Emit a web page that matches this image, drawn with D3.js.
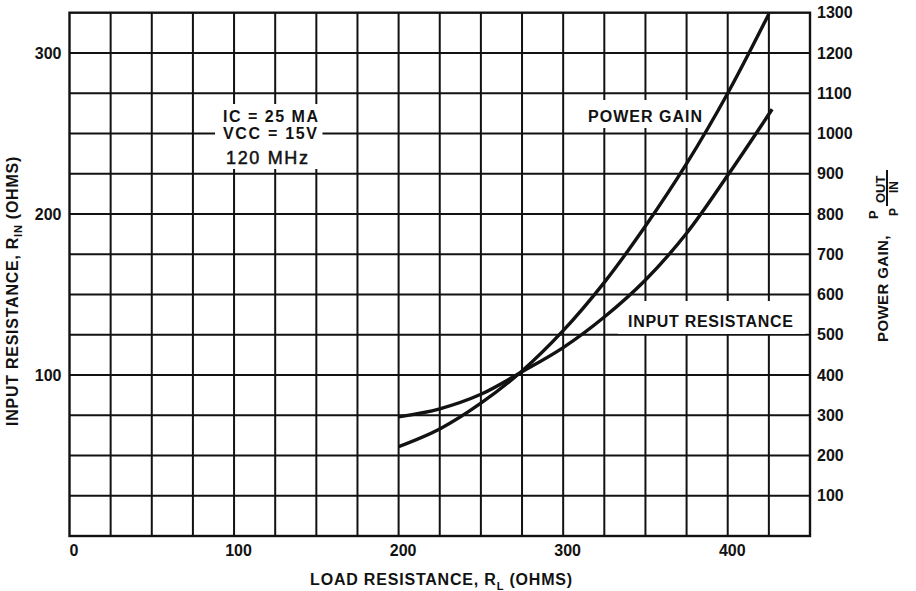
<!DOCTYPE html>
<html>
<head>
<meta charset="utf-8">
<script src="https://cdn.jsdelivr.net/npm/d3@7"></script>
<style>
  html, body { margin: 0; padding: 0; background: #fff; }
  svg { display: block; }
  text { font-family: "Liberation Sans", Arial, Helvetica, sans-serif; fill: #121212; }
</style>
</head>
<body>
<svg id="chart" width="916" height="591"></svg>
<script>
// Tick labels
const loadTicks = [0, 100, 200, 300, 400];
const rinTicks = [100, 200, 300];
const gainTicks = [100, 200, 300, 400, 500, 600, 700, 800, 900, 1000, 1100, 1200, 1300];

// Power gain (Pout/Pin) against load resistance R_L (ohms)
const gainLoad = [200, 225, 250, 275, 300, 325, 350, 375, 400, 425];
const powerGain = [222, 266, 330, 410, 510, 630, 770, 925, 1100, 1297];

// Input resistance R_IN (ohms) against load resistance R_L (ohms)
const rinLoad = [200, 225, 250, 275, 300, 325, 350, 375, 400, 427];
const inputResistance = [74, 79, 88, 102, 117, 136, 159, 188, 224, 265];

// Operating conditions
const conditions = ["IC = 25 MA", "VCC = 15V", "120 MHz"];

const svg = d3.select("#chart");
const plot = { left: 69.5, right: 810, top: 12.7, bottom: 536 };
const ink = "#121212";

const x = d3.scaleLinear().domain([0, 450]).range([plot.left, plot.right]);
const yL = d3.scaleLinear().domain([0, 325]).range([plot.bottom, plot.top]);
const yR = d3.scaleLinear().domain([0, 1300]).range([plot.bottom, plot.top]);

// Grid: 25-ohm columns, 100-unit gain rows
const grid = svg.append("g").attr("stroke", ink).attr("stroke-width", 2);
grid.selectAll("line.v").data(d3.range(25, 450, 25)).join("line")
  .attr("class", "v")
  .attr("x1", d => x(d)).attr("x2", d => x(d))
  .attr("y1", plot.top).attr("y2", plot.bottom);
grid.selectAll("line.h").data(d3.range(100, 1300, 100)).join("line")
  .attr("class", "h")
  .attr("y1", d => yR(d)).attr("y2", d => yR(d))
  .attr("x1", plot.left).attr("x2", plot.right);
svg.append("rect")
  .attr("x", plot.left).attr("y", plot.top)
  .attr("width", plot.right - plot.left).attr("height", plot.bottom - plot.top)
  .attr("fill", "none").attr("stroke", ink).attr("stroke-width", 2.4);

// Axes
function styleAxis(g) {
  g.attr("font-size", null).attr("font-family", null);
  g.select(".domain").remove();
  g.selectAll("text").style("font-size", "16px").style("font-weight", "bold").attr("fill", ink);
}
svg.append("g").attr("transform", `translate(${plot.left},0)`)
  .call(d3.axisLeft(yL).tickValues(rinTicks).tickSize(0).tickPadding(8).tickFormat(d3.format("d")))
  .call(styleAxis);
svg.append("g").attr("transform", `translate(${plot.right},0)`)
  .call(d3.axisRight(yR).tickValues(gainTicks).tickSize(0).tickPadding(7).tickFormat(d3.format("d")))
  .call(styleAxis);
svg.append("g").attr("transform", `translate(0,${plot.bottom})`)
  .call(d3.axisBottom(x).tickValues(loadTicks).tickSize(0).tickPadding(9).tickFormat(d3.format("d")))
  .call(styleAxis)
  .call(g => g.selectAll("text").attr("dx", 4));

// Axis titles
const xTitle = svg.append("text")
  .attr("x", 441.5).attr("y", 585)
  .attr("text-anchor", "middle")
  .style("font-size", "16px").style("font-weight", "bold").style("letter-spacing", "0.8px");
xTitle.append("tspan").text("LOAD RESISTANCE, R");
xTitle.append("tspan").attr("dy", 5).style("font-size", "11px").text("L");
xTitle.append("tspan").attr("dy", -5).text(" (OHMS)");

const yTitle = svg.append("text")
  .attr("transform", "translate(18,291) rotate(-90)")
  .attr("text-anchor", "middle")
  .style("font-size", "16px").style("font-weight", "bold").style("letter-spacing", "0.75px");
yTitle.append("tspan").text("INPUT RESISTANCE, R");
yTitle.append("tspan").attr("dy", 4).style("font-size", "11px").text("IN");
yTitle.append("tspan").attr("dy", -4).text(" (OHMS)");

const rTitle = svg.append("g").attr("transform", "translate(888,342) rotate(-90)");
rTitle.append("text").attr("x", 0).attr("y", 0)
  .style("font-size", "15px").style("font-weight", "bold").style("letter-spacing", "0.4px")
  .text("POWER GAIN,");
rTitle.append("text").attr("x", 123).attr("y", -10.5)
  .style("font-size", "13px").style("font-weight", "bold").text("P");
rTitle.append("text").attr("x", 139).attr("y", -3.5)
  .style("font-size", "13px").style("font-weight", "bold").text("OUT");
rTitle.append("line")
  .attr("x1", 136).attr("x2", 172).attr("y1", -1).attr("y2", -1)
  .attr("stroke", ink).attr("stroke-width", 2);
rTitle.append("text").attr("x", 126).attr("y", 9.5)
  .style("font-size", "12px").style("font-weight", "bold").text("P");
rTitle.append("text").attr("x", 149).attr("y", 9.5)
  .style("font-size", "12px").style("font-weight", "bold").text("IN");

// Labels inside the grid sit on white patches
function boxedLabel(lines, pad) {
  const g = svg.append("g");
  const texts = lines.map(l => g.append("text")
    .attr("x", l.x).attr("y", l.y)
    .attr("text-anchor", "middle")
    .attr("textLength", l.len).attr("lengthAdjust", "spacing")
    .style("font-size", l.size + "px")
    .style("font-weight", l.weight || "bold")
    .style("stroke", l.stroke ? ink : null)
    .style("stroke-width", l.stroke || null)
    .text(l.text));
  const boxes = texts.map(t => t.node().getBBox());
  const x0 = d3.min(boxes, b => b.x) - pad.l;
  const x1 = d3.max(boxes, b => b.x + b.width) + pad.r;
  const y0 = d3.min(boxes, b => b.y) - pad.t;
  const y1 = d3.max(boxes, b => b.y + b.height) + pad.b;
  g.insert("rect", "text")
    .attr("x", x0).attr("y", y0).attr("width", x1 - x0).attr("height", y1 - y0)
    .attr("fill", "#fff");
}

boxedLabel([
  { text: conditions[0], x: 270.5, y: 122, len: 95, size: 16 },
  { text: conditions[1], x: 270, y: 139, len: 94, size: 16 },
  { text: conditions[2], x: 267, y: 164, len: 82, size: 18, weight: "normal", stroke: 0.5 }
], { l: 8, r: 4, t: 4, b: 1 });

boxedLabel([{ text: "POWER GAIN", x: 645, y: 122, len: 114, size: 16 }],
  { l: 5, r: 5, t: 8, b: 3 });

boxedLabel([{ text: "INPUT RESISTANCE", x: 710.5, y: 327, len: 165, size: 16 }],
  { l: 10, r: 12, t: 12, b: 4 });

// Curves
const gainLine = d3.line()
  .x((d, i) => x(gainLoad[i]))
  .y(d => yR(d))
  .curve(d3.curveCatmullRom.alpha(0.5));
const rinLine = d3.line()
  .x((d, i) => x(rinLoad[i]))
  .y(d => yL(d))
  .curve(d3.curveCatmullRom.alpha(0.5));

svg.append("path").datum(powerGain)
  .attr("d", gainLine)
  .attr("fill", "none").attr("stroke", ink).attr("stroke-width", 3.4);
svg.append("path").datum(inputResistance)
  .attr("d", rinLine)
  .attr("fill", "none").attr("stroke", ink).attr("stroke-width", 3.4);
</script>
</body>
</html>
